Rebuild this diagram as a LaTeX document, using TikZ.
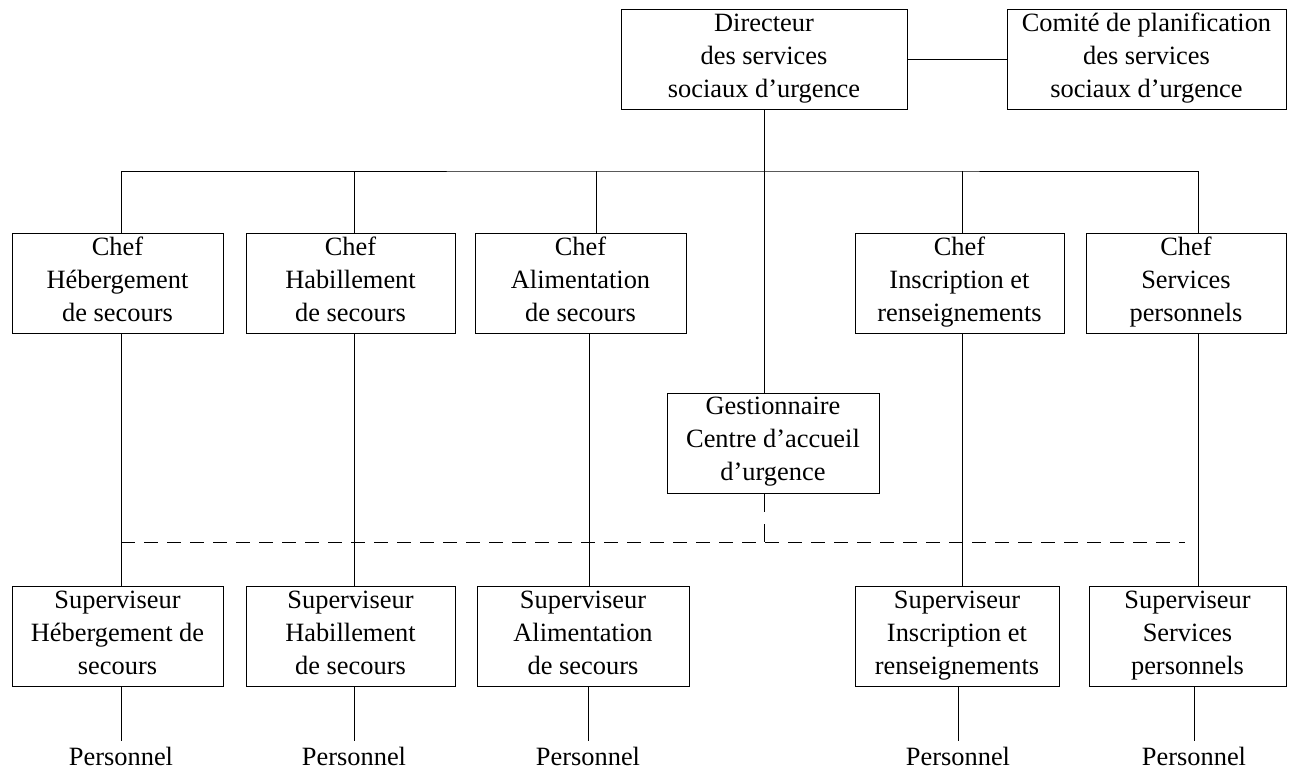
\documentclass[tikz,border=0pt]{standalone}
\usepackage{fontspec}
\setmainfont{Liberation Serif}
\usepackage{tikz}
\usetikzlibrary{positioning}
\newcommand{\boxstrut}{\rule[-8pt]{0pt}{30pt}}
\tikzstyle{orgbox} = [rectangle, minimum height=100pt, align=center, draw=black, line width=0.8pt, inner sep=2pt, font=\fontsize{26.4}{33}\selectfont, execute at begin node=\boxstrut, execute at end node=\boxstrut]
\tikzstyle{persnode} = [anchor=north, inner sep=6pt, font=\fontsize{26.4}{33}\selectfont]
\tikzstyle{link} = [line width=0.8pt]
\tikzstyle{dashline} = [line width=0.8pt, dash pattern=on 14pt off 9pt]
\tikzstyle{dashdrop} = [line width=0.8pt, dash pattern=on 19pt off 12pt]

\begin{document}
\begin{tikzpicture}[x=1pt,y=-1pt]
\useasboundingbox (0,0) rectangle (1291,769);
% top level
\node (dir) [orgbox, minimum width=286pt] at (764,59.5) {Directeur\\des services\\sociaux d’urgence};
\node (comite) [orgbox, minimum width=279pt] at (1146.5,59.5) {Comité de planification\\des services\\sociaux d’urgence};
% chefs
\node (chefA) [orgbox, minimum width=211pt] at (117.5,283) {Chef\\Hébergement\\de secours};
\node (chefB) [orgbox, minimum width=209pt] at (350.5,283) {Chef\\Habillement\\de secours};
\node (chefC) [orgbox, minimum width=211pt] at (580.5,283) {Chef\\Alimentation\\de secours};
\node (chefD) [orgbox, minimum width=209pt] at (959.5,283) {Chef\\Inscription et\\renseignements};
\node (chefE) [orgbox, minimum width=200pt] at (1186,283) {Chef\\Services\\personnels};
\node (gest) [orgbox, minimum width=212pt] at (773,443) {Gestionnaire\\Centre d’accueil\\d’urgence};
% superviseurs
\node (supA) [orgbox, minimum width=211pt] at (117.5,636.5) {Superviseur\\Hébergement de\\secours};
\node (supB) [orgbox, minimum width=209pt] at (350.5,636.5) {Superviseur\\Habillement\\de secours};
\node (supC) [orgbox, minimum width=212pt] at (583,636.5) {Superviseur\\Alimentation\\de secours};
\node (supD) [orgbox, minimum width=204pt] at (957,636.5) {Superviseur\\Inscription et\\renseignements};
\node (supE) [orgbox, minimum width=197pt] at (1187.5,636.5) {Superviseur\\Services\\personnels};
% personnel
\node (persA) [persnode] at (121,741) {Personnel};
\node (persB) [persnode] at (354,741) {Personnel};
\node (persC) [persnode] at (588,741) {Personnel};
\node (persD) [persnode] at (958,741) {Personnel};
\node (persE) [persnode] at (1194,741) {Personnel};

\coordinate (bus) at (765,171);
\coordinate (dashL) at (121,542);
\coordinate (dashR) at (1185,542);

\draw [link] (dir.east) -- (comite.west);
\draw [link] (dir.south) -- (dir.south |- gest.north);
\draw [link] ([xshift=3.5pt]chefA.north) |- (bus) -| ([xshift=12pt]chefE.north);
\draw [link] ([xshift=3.5pt]chefB.north) -- ([xshift=3.5pt]chefB.north |- bus);
\draw [link] ([xshift=15.5pt]chefC.north) -- ([xshift=15.5pt]chefC.north |- bus);
\draw [link] ([xshift=2.5pt]chefD.north) -- ([xshift=2.5pt]chefD.north |- bus);

\draw [link] ([xshift=3.5pt]chefA.south) -- ([xshift=3.5pt]supA.north);
\draw [link] ([xshift=3.5pt]chefB.south) -- ([xshift=3.5pt]supB.north);
\draw [link] ([xshift=8.5pt]chefC.south) -- ([xshift=6pt]supC.north);
\draw [link] ([xshift=2.5pt]chefD.south) -- ([xshift=5pt]supD.north);
\draw [link] ([xshift=12pt]chefE.south) -- ([xshift=10.5pt]supE.north);

\draw [link] ([xshift=3.5pt]supA.south) -- (persA.north);
\draw [link] ([xshift=3.5pt]supB.south) -- (persB.north);
\draw [link] ([xshift=5pt]supC.south) -- (persC.north);
\draw [link] ([xshift=1pt]supD.south) -- (persD.north);
\draw [link] ([xshift=6.5pt]supE.south) -- (persE.north);

\draw [dashline] (dashL) -- (dashR);
\draw [dashdrop] (dir.south |- gest.south) -- (dir.south |- dashL);
\end{tikzpicture}
\end{document}
